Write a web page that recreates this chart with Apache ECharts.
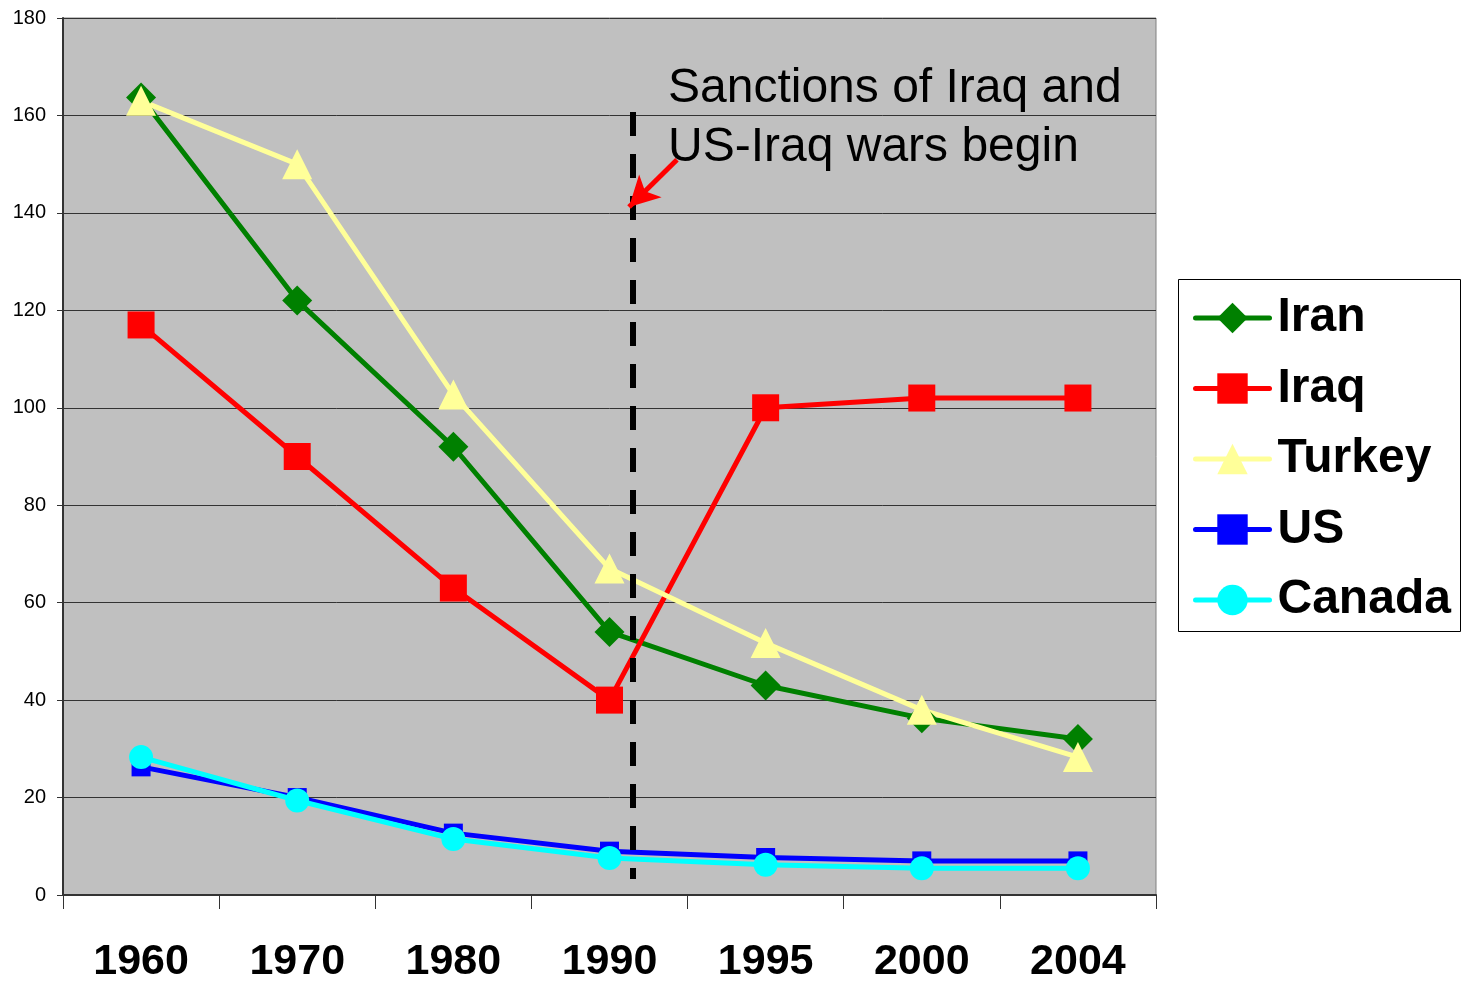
<!DOCTYPE html>
<html>
<head>
<meta charset="utf-8">
<script src="https://cdn.jsdelivr.net/npm/echarts@6/dist/echarts.min.js"></script>
<style>
html,body{margin:0;padding:0;background:#fff;}
#c{width:1463px;height:981px;}
</style>
</head>
<body>
<div id="c"></div>
<script>
const years = ['1960','1970','1980','1990','1995','2000','2004'];
const iran   = [163.7, 122, 92, 54, 43, 36.3, 32];
const iraq   = [117, 90, 63, 40, 100, 102, 102];
const turkey = [163, 150, 102.7, 67, 51.7, 38, 28.3];
const us     = [26.3, 20, 12.7, 9, 7.7, 7, 7];
const canada = [28.3, 19.4, 11.5, 7.6, 6.2, 5.5, 5.5];
const yTicks = {min: 0, max: 180, step: 20};
const eventLine = {x: 3.646, yTop: 160.7, yBottom: 3.3};
const arrowFrom = [3.932, 150.9];
const arrowTo = [3.625, 141.2];
const annotation = 'Sanctions of Iraq and\nUS-Iraq wars begin';

const FONT = '"Liberation Sans", Arial, sans-serif';
const chart = echarts.init(document.getElementById('c'));

function mk(name, data, color, symbol, size) {
  return {
    name: name, type: 'line', data: data,
    xAxisIndex: 0, yAxisIndex: 0,
    symbol: symbol, symbolSize: size,
    lineStyle: {color: color, width: 5},
    itemStyle: {color: color},
    animation: false
  };
}

chart.setOption({
  animation: false,
  textStyle: {fontFamily: FONT},
  grid: {
    left: 63, top: 18, right: 307, bottom: 86,
    containLabel: false, outerBoundsMode: 'none',
    show: true, backgroundColor: '#c0c0c0', borderColor: '#808080', borderWidth: 1
  },
  xAxis: [{
    type: 'category', data: years, boundaryGap: true,
    axisLine: {lineStyle: {color: '#333', width: 2}},
    axisTick: {show: true, length: 14, inside: false, lineStyle: {color: '#333', width: 1}},
    axisLabel: {fontSize: 43, fontWeight: 'bold', color: '#000', margin: 46, fontFamily: FONT},
    splitLine: {show: false}
  }, {
    type: 'value', min: 0, max: 7, show: false
  }],
  yAxis: [{
    type: 'value', min: yTicks.min, max: yTicks.max, interval: yTicks.step,
    axisLine: {show: true, lineStyle: {color: '#333', width: 2}},
    axisTick: {show: true, length: 6, lineStyle: {color: '#333'}},
    axisLabel: {fontSize: 20, color: '#000', margin: 17, fontFamily: FONT},
    splitLine: {show: true, lineStyle: {color: '#333', width: 1}}
  }],
  legend: {
    orient: 'vertical', left: 1193, top: 293, padding: 0,
    itemWidth: 74, itemHeight: 38, itemGap: 20.5,
    data: ['Iran','Iraq','Turkey','US','Canada'],
    lineStyle: {width: 5, cap: 'round'},
    textStyle: {fontSize: 48, fontWeight: 'bold', color: '#000', lineHeight: 50, fontFamily: FONT, padding: [0,0,0,3]},
    selectedMode: false
  },
  graphic: [{
    type: 'rect',
    shape: {x: 1178.5, y: 279.5, width: 282, height: 352},
    style: {fill: 'none', stroke: '#000', lineWidth: 1},
    z: 0
  }, {
    type: 'text', left: 668, top: 59,
    style: {text: annotation, font: '48px ' + FONT, fill: '#000', lineHeight: 59},
    z: 100
  }],
  series: [
    mk('Iran', iran, '#008000', 'diamond', 30),
    mk('Iraq', iraq, '#ff0000', 'rect', 27),
    mk('Turkey', turkey, '#ffff99', 'triangle', 30),
    mk('US', us, '#0000ff', 'rect', 19),
    mk('Canada', canada, '#00ffff', 'circle', 24),
    {
      name: 'annot', type: 'line', xAxisIndex: 1, yAxisIndex: 0, data: [],
      silent: true, z: 10,
      markLine: {
        silent: true, animation: false, z: 10,
        label: {show: false},
        data: [
          [{coord: [eventLine.x, eventLine.yTop], symbol: 'none',
            lineStyle: {color: '#000', width: 6, type: [24, 18]}},
           {coord: [eventLine.x, eventLine.yBottom], symbol: 'none'}],
          [{coord: arrowFrom, symbol: 'none',
            lineStyle: {color: '#ff0000', width: 5, type: 'solid'}},
           {coord: arrowTo, symbol: 'arrow', symbolSize: [24, 30]}]
        ]
      }
    }
  ]
});
</script>
</body>
</html>
